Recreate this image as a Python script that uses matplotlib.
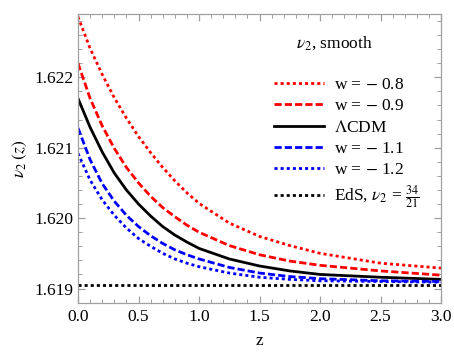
import matplotlib
matplotlib.use('Agg')
from matplotlib import pyplot as plt
from matplotlib.ticker import MultipleLocator, FormatStrFormatter

plt.rcParams['font.family'] = ['Liberation Serif', 'DejaVu Serif']
plt.rcParams['mathtext.fontset'] = 'stix'

# значения
z = [0.0, 0.1, 0.2, 0.3, 0.4, 0.5, 0.6, 0.7, 0.8, 0.9, 1.0, 1.25, 1.5, 1.75,
     2.0, 2.5, 3.0]
w_08 = [1.62286, 1.62241, 1.62204, 1.62171, 1.62142, 1.62116, 1.62093, 1.62072,
        1.62053, 1.62036, 1.62021, 1.61993, 1.61974, 1.61961, 1.61950, 1.61936,
        1.61929]
w_09 = [1.62220, 1.62170, 1.62131, 1.62099, 1.62072, 1.62050, 1.62031, 1.62015,
        1.62002, 1.61990, 1.61980, 1.61961, 1.61948, 1.61939, 1.61933, 1.61925,
        1.61919]
lcdm = [1.62170, 1.62129, 1.62094, 1.62064, 1.62040, 1.62020, 1.62003, 1.61988,
        1.61976, 1.61966, 1.61957, 1.61942, 1.61932, 1.61925, 1.61920, 1.61916,
        1.61913]
w_11 = [1.62128, 1.62083, 1.62049, 1.62024, 1.62004, 1.61988, 1.61975, 1.61964,
        1.61955, 1.61948, 1.61942, 1.61930, 1.61922, 1.61917, 1.61914, 1.61911,
        1.61910]
w_12 = [1.62092, 1.62054, 1.62026, 1.62004, 1.61986, 1.61971, 1.61960, 1.61950,
        1.61942, 1.61936, 1.61931, 1.61922, 1.61916, 1.61913, 1.61911, 1.61910,
        1.61909]
eds = 34 / 21

labels = ['w = $-$ 0.8', 'w = $-$ 0.9', r'$\Lambda$CDM', 'w = $-$ 1.1',
          'w = $-$ 1.2', r'EdS, $\nu_2$ = $\frac{34}{21}$']

dot = (0, (1.1, 1.1))
dash = (0, (2.6, 1.1))

fig = plt.figure(figsize=(4.54, 3.56), dpi=100)
ax = fig.add_axes([0.1718, 0.148, 0.7996, 0.8127])

ax.plot(z, w_08, color='red', lw=2, linestyle=dot, label=labels[0])
ax.plot(z, w_09, color='red', lw=2, linestyle=dash, label=labels[1])
ax.plot(z, lcdm, color='black', lw=2, label=labels[2])
ax.plot(z, w_11, color='blue', lw=2, linestyle=dash, label=labels[3])
ax.plot(z, w_12, color='blue', lw=2, linestyle=dot, label=labels[4])
ax.axhline(eds, color='black', lw=2, linestyle=dot, label=labels[5])

ax.set_xlim(0, 3)
ax.set_ylim(1.61879, 1.622899)
ax.xaxis.set_major_locator(MultipleLocator(0.5))
ax.xaxis.set_minor_locator(MultipleLocator(0.1))
ax.yaxis.set_major_locator(MultipleLocator(0.001))
ax.yaxis.set_minor_locator(MultipleLocator(0.0002))
ax.xaxis.set_major_formatter(FormatStrFormatter('%.1f'))
ax.yaxis.set_major_formatter(FormatStrFormatter('%.3f'))

# рамка как в Mathematica
for s in ax.spines.values():
    s.set_color('#a0a0a0')
    s.set_linewidth(0.9)
ax.tick_params(which='both', direction='in', top=True, right=True,
               color='#a0a0a0', labelsize=12.5)
ax.tick_params(which='major', length=5, width=0.9)
ax.tick_params(which='minor', length=2.8, width=0.7)
ax.tick_params(axis='x', pad=4)
ax.tick_params(axis='y', pad=3)

ax.set_xlabel('z', fontsize=12.5, labelpad=6)
ax.set_ylabel(r'$\nu_2\;(z)$', fontsize=12.5, labelpad=4)

leg = ax.legend(loc='upper right', bbox_to_anchor=(0.975, 0.825), frameon=False,
                fontsize=12.5, handlelength=2.9, handletextpad=0.6,
                labelspacing=0.3, borderaxespad=0.3)
ax.text(0.705, 0.90, r'$\nu_2$, smooth', transform=ax.transAxes,
        fontsize=12.5, ha='center', va='center')

fig.savefig('out.png', dpi=100)
